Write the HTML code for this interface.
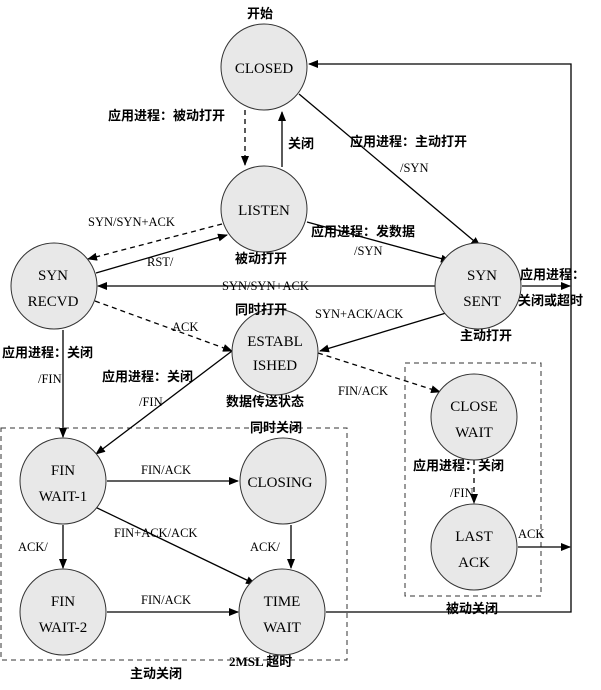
<!DOCTYPE html>
<html><head><meta charset="utf-8"><style>
html,body{margin:0;padding:0;background:#fff;}
svg{display:block;}
text{font-family:"Liberation Serif","Noto Serif CJK SC",serif;font-size:13px;fill:#000;}
g.z text{font-family:"Liberation Serif","Noto Sans CJK SC",sans-serif;font-weight:bold;font-size:13px;}
g.n text{font-size:15px;text-anchor:middle;}
g.l text{font-size:12.5px;}
</style></head><body>
<svg width="601" height="690" viewBox="0 0 601 690" xmlns="http://www.w3.org/2000/svg">
<defs><marker id="a" markerWidth="10" markerHeight="8" refX="9" refY="4" orient="auto" markerUnits="userSpaceOnUse"><path d="M0,0 L10,4 L0,8 Z" fill="#000"/></marker></defs>
<g fill="none" stroke="#333" stroke-dasharray="5,4" stroke-width="1">
<rect x="1" y="428" width="346" height="232"/>
<rect x="405" y="363" width="136" height="233"/>
</g>
<g stroke="#000" stroke-width="1.3" fill="none">
<polyline points="326,612 571,612 571,64 309,64" marker-end="url(#a)"/>
<line x1="522" y1="286" x2="570" y2="286" marker-end="url(#a)"/>
<line x1="518" y1="547" x2="570" y2="547" marker-end="url(#a)"/>
<line x1="245" y1="110" x2="245" y2="165" stroke-dasharray="5,4" marker-end="url(#a)"/>
<line x1="282" y1="167" x2="282" y2="112" marker-end="url(#a)"/>
<line x1="299" y1="94" x2="480" y2="246" marker-end="url(#a)"/>
<line x1="307" y1="222" x2="450" y2="261" marker-end="url(#a)"/>
<line x1="222" y1="224" x2="88" y2="259" stroke-dasharray="5,4" marker-end="url(#a)"/>
<line x1="96" y1="273" x2="227" y2="235" marker-end="url(#a)"/>
<line x1="435" y1="286" x2="98" y2="286" marker-end="url(#a)"/>
<line x1="95" y1="301" x2="232" y2="351" stroke-dasharray="5,4" marker-end="url(#a)"/>
<line x1="446" y1="313" x2="320" y2="351" marker-end="url(#a)"/>
<line x1="318" y1="353" x2="440" y2="392" stroke-dasharray="5,4" marker-end="url(#a)"/>
<line x1="63" y1="330" x2="63" y2="437" marker-end="url(#a)"/>
<line x1="232" y1="351" x2="96" y2="454" marker-end="url(#a)"/>
<line x1="474" y1="460" x2="474" y2="503" stroke-dasharray="5,4" marker-end="url(#a)"/>
<line x1="107" y1="481" x2="238" y2="481" marker-end="url(#a)"/>
<line x1="91" y1="505" x2="255" y2="584" marker-end="url(#a)"/>
<line x1="63" y1="525" x2="63" y2="568" marker-end="url(#a)"/>
<line x1="291" y1="525" x2="291" y2="568" marker-end="url(#a)"/>
<line x1="107" y1="612" x2="238" y2="612" marker-end="url(#a)"/>
</g>
<g fill="#e8e8e8" stroke="#333" stroke-width="1">
<circle cx="264" cy="67" r="43"/>
<circle cx="264" cy="209" r="43"/>
<circle cx="54" cy="286" r="43"/>
<circle cx="478" cy="286" r="43"/>
<circle cx="275" cy="352" r="43"/>
<circle cx="474" cy="417" r="43"/>
<circle cx="63" cy="481" r="43"/>
<circle cx="283" cy="481" r="43"/>
<circle cx="474" cy="547" r="43"/>
<circle cx="63" cy="612" r="43"/>
<circle cx="282" cy="612" r="43"/>
</g>
<g class="n">
<text x="264" y="73">CLOSED</text>
<text x="264" y="215">LISTEN</text>
<text x="53" y="280">SYN</text><text x="53" y="306">RECVD</text>
<text x="482" y="280">SYN</text><text x="482" y="306">SENT</text>
<text x="275" y="346">ESTABL</text><text x="275" y="370">ISHED</text>
<text x="474" y="411">CLOSE</text><text x="474" y="437">WAIT</text>
<text x="63" y="475">FIN</text><text x="63" y="501">WAIT-1</text>
<text x="280" y="487">CLOSING</text>
<text x="474" y="541">LAST</text><text x="474" y="567">ACK</text>
<text x="63" y="606">FIN</text><text x="63" y="632">WAIT-2</text>
<text x="282" y="606">TIME</text><text x="282" y="632">WAIT</text>
</g>
<g class="z">
<text x="247" y="18">开始</text>
<text x="108" y="120">应用进程：被动打开</text>
<text x="288" y="148">关闭</text>
<text x="350" y="146">应用进程：主动打开</text>
<text x="311" y="236">应用进程：发数据</text>
<text x="235" y="263">被动打开</text>
<text x="520" y="279">应用进程：</text>
<text x="518" y="305">关闭或超时</text>
<text x="235" y="314">同时打开</text>
<text x="460" y="340">主动打开</text>
<text x="2" y="357">应用进程：关闭</text>
<text x="102" y="381">应用进程：关闭</text>
<text x="226" y="406">数据传送状态</text>
<text x="250" y="432">同时关闭</text>
<text x="413" y="470">应用进程：关闭</text>
<text x="446" y="613">被动关闭</text>
<text x="130" y="678">主动关闭</text>
<text x="229" y="666">2MSL 超时</text>
</g>
<g class="l">
<text x="400" y="172">/SYN</text>
<text x="354" y="255">/SYN</text>
<text x="88" y="226">SYN/SYN+ACK</text>
<text x="147" y="266">RST/</text>
<text x="222" y="290">SYN/SYN+ACK</text>
<text x="315" y="318">SYN+ACK/ACK</text>
<text x="172" y="331">ACK</text>
<text x="38" y="383">/FIN</text>
<text x="139" y="406">/FIN</text>
<text x="338" y="395">FIN/ACK</text>
<text x="450" y="497">/FIN</text>
<text x="141" y="474">FIN/ACK</text>
<text x="114" y="537">FIN+ACK/ACK</text>
<text x="18" y="551">ACK/</text>
<text x="250" y="551">ACK/</text>
<text x="518" y="538">ACK</text>
<text x="141" y="604">FIN/ACK</text>
</g>
</svg>
</body></html>
